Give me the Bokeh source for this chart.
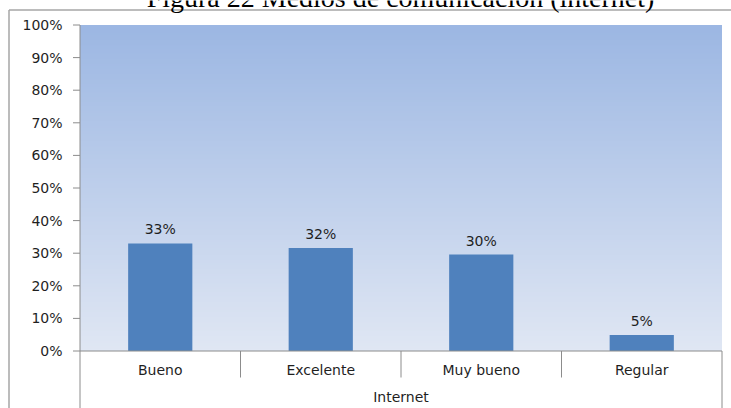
import numpy as np
from bokeh.plotting import figure
from bokeh.models import Range1d, Label, ColumnDataSource
from bokeh.core.properties import value
from bokeh.embed import file_html
from bokeh.resources import INLINE

title = "Figura 22 Medios de comunicación (internet)"
categories = ["Bueno", "Excelente", "Muy bueno", "Regular"]
values = [33.0, 31.6, 29.6, 4.9]
value_labels = ["33%", "32%", "30%", "5%"]
group_label = "Internet"
y_ticks = [0, 10, 20, 30, 40, 50, 60, 70, 80, 90, 100]
y_tick_labels = ["0%", "10%", "20%", "30%", "40%", "50%", "60%", "70%", "80%", "90%", "100%"]

FONT = "DejaVu Sans"
TXT = "#1f1f1f"
GRID = "#8c8c8c"
W, H = 731, 408

n = len(categories)
xs = np.arange(n) + 0.5

# layout: the plotting frame covers the whole canvas; axis at pixel 79.5,
# 0% at pixel 350.5 and 100% at pixel 24.5
AX, KX = 79.5, 642.0 / n
AY0, KY = 350.5, 3.26


def dx(px):
    return (px - AX) / KX


def dy(py):
    return (AY0 - py) / KY


p = figure(width=W, height=H, output_backend="svg", toolbar_location=None,
           x_range=Range1d(dx(0), dx(W)), y_range=Range1d(dy(H), dy(0)),
           min_border=0, min_border_left=0, min_border_right=0,
           min_border_top=0, min_border_bottom=0)
p.background_fill_color = "white"
p.border_fill_color = "white"
p.outline_line_color = None
p.grid.visible = False
p.axis.visible = False

# gradient background (0..100%)
N = 200
t = np.linspace(0, 1, N)
top = np.array([156, 183, 227])
bot = np.array([224, 231, 244])
cols = (bot[None, :] + (top - bot)[None, :] * t[:, None]).astype(np.uint32)
img = np.zeros((N, 1), dtype=np.uint32)
view = img.view(dtype=np.uint8).reshape((N, 1, 4))
view[:, 0, 0] = cols[:, 0]
view[:, 0, 1] = cols[:, 1]
view[:, 0, 2] = cols[:, 2]
view[:, 0, 3] = 255
p.image_rgba(image=[img], x=0, y=0, dw=n, dh=100)

# bars
src = ColumnDataSource(dict(x=xs, top=values, lab=value_labels, cat=categories))
p.vbar(x="x", top="top", width=0.4, source=src, fill_color="#4F81BD", line_color=None)
p.text(x="x", y="top", text="lab", source=src, text_align="center",
       text_baseline="alphabetic", y_offset=-14, text_font=value(FONT),
       text_font_size="14px", text_color=TXT)

# y axis: line, ticks and labels
p.segment(x0=[0], y0=[100], x1=[0], y1=[dy(H + 5)], line_color=GRID, line_width=1)
p.segment(x0=[dx(72.5)] * len(y_ticks), y0=y_ticks, x1=[0] * len(y_ticks), y1=y_ticks,
          line_color=GRID, line_width=1)
p.text(x=[dx(62)] * len(y_ticks), y=y_ticks, text=y_tick_labels, text_align="right",
       text_baseline="middle", text_font=value(FONT), text_font_size="14px",
       text_color=TXT)

# horizontal axis line and category separators
p.segment(x0=[0], y0=[0], x1=[n], y1=[0], line_color=GRID, line_width=1)
inner = list(range(1, n))
p.segment(x0=inner, y0=[0] * len(inner), x1=inner, y1=[dy(377)] * len(inner),
          line_color=GRID, line_width=1)
p.segment(x0=[n], y0=[0], x1=[n], y1=[dy(H + 5)], line_color=GRID, line_width=1)

# category labels
p.text(x="x", y=dy(369), text="cat", source=src, text_align="center",
       text_baseline="middle", text_font=value(FONT), text_font_size="14px",
       text_color=TXT)
p.text(x=[n / 2], y=[dy(396)], text=[group_label], text_align="center",
       text_baseline="middle", text_font=value(FONT), text_font_size="14px",
       text_color=TXT)

# outer chart border
BORDER = "#a6a6a6"
p.segment(x0=[dx(8.5)], y0=[dy(9.5)], x1=[dx(W + 5)], y1=[dy(9.5)],
          line_color=BORDER, line_width=1.5)
p.segment(x0=[dx(8.5)], y0=[dy(9.5)], x1=[dx(8.5)], y1=[dy(H + 5)],
          line_color=BORDER, line_width=1.5)

# title (cut off at the top, as in the reference)
p.add_layout(Label(x=dx(400), y=dy(-3), text=title, text_align="center",
                   text_baseline="alphabetic", text_font="Liberation Serif",
                   text_font_size="28px", text_color="#000000"))

open("out.html", "w").write(file_html(p, INLINE))
